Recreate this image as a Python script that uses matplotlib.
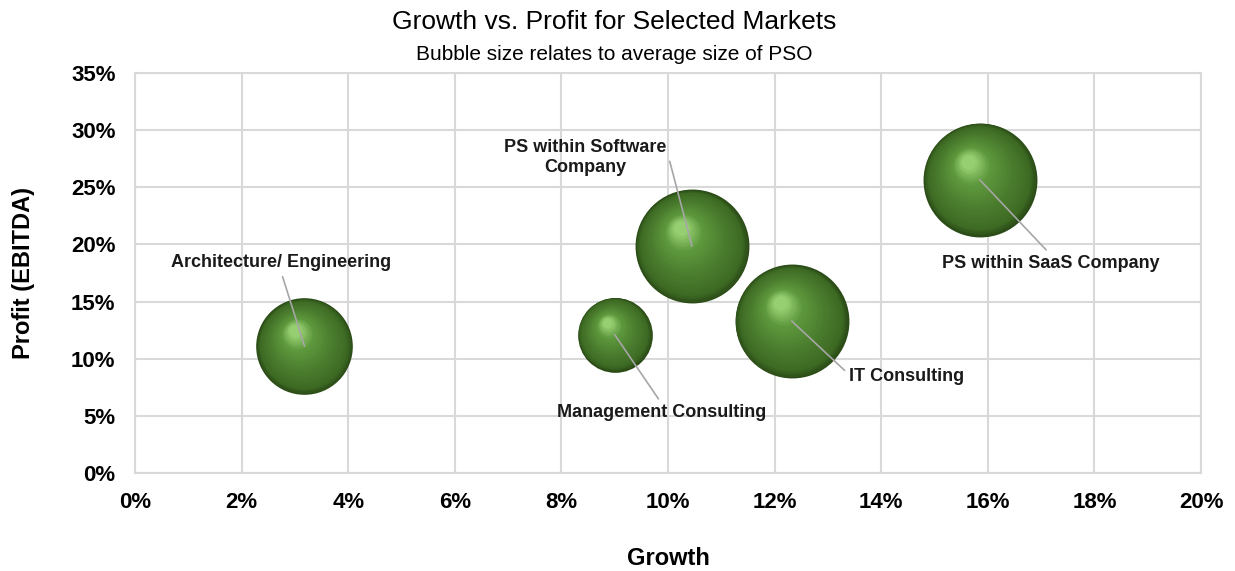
import matplotlib
matplotlib.use("Agg")
import matplotlib.pyplot as plt
import numpy as np
from matplotlib.colors import LinearSegmentedColormap
from matplotlib.transforms import offset_copy
from matplotlib.ticker import PercentFormatter

# Data
markets = ["Architecture/ Engineering", "Management Consulting",
           "PS within Software\nCompany", "IT Consulting", "PS within SaaS Company"]
growth = [3.18, 9.0, 10.45, 12.32, 15.85]     # %
profit = [11.1, 12.1, 19.85, 13.3, 25.65]     # %
pso_size = [72, 43, 100, 100, 100]            # relative average size of PSO

# label offsets from the bubble centre (points) and where the leader leaves the text
label_offsets = [(-17, 60), (34, -56), (-77, 64), (83, -40), (51, -60)]
leader_relpos = [(0.5, 0.0), (0.5, 1.0), (1.0, 0.75), (0.0, 0.6), (0.5, 1.0)]

plt.rcParams["font.family"] = ["Liberation Sans Narrow", "Liberation Sans", "DejaVu Sans"]

fig = plt.figure(figsize=(12.35, 5.71), dpi=100)
ax = fig.add_axes([0.1093, 0.1716, 0.8632, 0.7006])

ax.set_xlim(0, 20)
ax.set_ylim(0, 35)
ax.set_xticks(np.arange(0, 21, 2))
ax.set_yticks(np.arange(0, 36, 5))
ax.xaxis.set_major_formatter(PercentFormatter(decimals=0))
ax.yaxis.set_major_formatter(PercentFormatter(decimals=0))
ax.tick_params(length=0, labelsize=16, pad=14)
for lab in ax.get_xticklabels() + ax.get_yticklabels():
    lab.set_fontweight("bold")
ax.grid(True, color="#d9d9d9", linewidth=1.5)
ax.set_axisbelow(True)
for sp in ax.spines.values():
    sp.set_color("#d9d9d9")
    sp.set_linewidth(1.5)

ax.set_xlabel("Growth", fontsize=17, fontweight="bold", labelpad=24)
ax.set_ylabel("Profit (EBITDA)", fontsize=17, fontweight="bold", labelpad=26)

fig.text(0.497, 0.962, "Growth vs. Profit for Selected Markets", ha="center", va="center", fontsize=19)
fig.text(0.497, 0.904, "Bubble size relates to average size of PSO", ha="center", va="center", fontsize=15)

# shaded "3D" bubbles: stacked circles shifted toward the highlight
cmap = LinearSegmentedColormap.from_list(
    "g", [(0.0, "#2b4c17"), (0.1, "#3d6a23"), (0.4, "#4b7d2e"), (0.75, "#5e983d"), (1.0, "#96cf72")])
n_levels = 40
max_r = 41.0  # points
for x, y, s in zip(growth, profit, pso_size):
    r = max_r * np.sqrt(s / 100.0)
    for k in range(n_levels):
        t = k / (n_levels - 1)
        rr = r * (1 - 0.88 * t)
        tr = offset_copy(ax.transData, fig=fig, x=-0.2 * r * t, y=0.32 * r * t, units="points")
        ax.scatter([x], [y], s=(2 * rr) ** 2, color=cmap(t), transform=tr,
                   linewidths=0, zorder=3 + k * 0.01)

for name, x, y, off, rp in zip(markets, growth, profit, label_offsets, leader_relpos):
    ax.annotate(name, xy=(x, y), xytext=off, textcoords="offset points",
                ha="center", va="center", fontsize=13, fontweight="bold", color="#1a1a1a",
                arrowprops=dict(arrowstyle="-", color="#a6a6a6", lw=1.2, shrinkB=0, relpos=rp),
                zorder=10)

fig.savefig("out.png", dpi=100)
